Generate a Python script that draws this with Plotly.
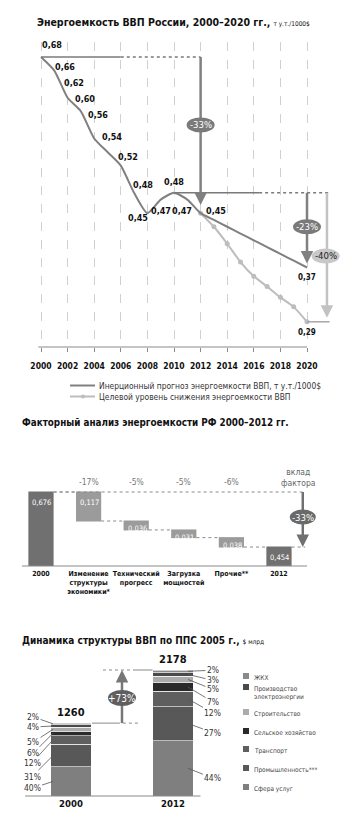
import plotly.graph_objects as go

W, H = 352, 829

# ---------------- Panel 1 data ----------------
years = list(range(2000, 2021))
inertial = [0.68, 0.66, 0.62, 0.60, 0.56, 0.54, 0.52, 0.48, 0.45, 0.47, 0.48,
            0.47, 0.45, 0.44, 0.43, 0.42, 0.41, 0.40, 0.39, 0.38, 0.37]
target_years = list(range(2012, 2021))
target = [0.45, 0.43, 0.405, 0.378, 0.357, 0.342, 0.326, 0.312, 0.29]
labelled_years = list(range(2000, 2013))
tick_years = list(range(2000, 2021, 2))
legend1_names = ["Инерционный прогноз энергоемкости ВВП, т у.т./1000$",
                 "Целевой уровень снижения энергоемкости ВВП"]
p1_pct = ["-33%", "-23%", "-40%"]

# ---------------- Panel 2 data ----------------
factor_cats = ["2000", "Изменение<br>структуры<br>экономики*", "Технический<br>прогресс",
               "Загрузка<br>мощностей", "Прочие**", "2012"]
factor_start = 0.676
factor_deltas = [0.117, 0.036, 0.031, 0.038]
factor_pct = ["-17%", "-5%", "-5%", "-6%"]
factor_total_pct = "-33%"

# ---------------- Panel 3 data ----------------
gdp_years = ["2000", "2012"]
gdp_totals = [1260, 2178]
sectors = ["Сфера услуг", "Промышленность***", "Транспорт", "Сельское хозяйство",
           "Строительство", "Производство электроэнергии", "ЖКХ"]
shares_2000 = [40, 31, 12, 6, 5, 4, 2]
shares_2012 = [44, 27, 12, 7, 5, 3, 2]
gdp_growth = "+73%"

# ---------------- styling ----------------
FN = "Liberation Sans Narrow, DejaVu Sans Condensed, Arial Narrow, Liberation Sans, sans-serif"
DARK = "#808080"
LIGHT = "#bdbdbd"
sector_colors = ["#7f7f7f", "#585858", "#5f5f5f", "#2a2a2a", "#ababab", "#4a4a4a", "#8a8a8a"]


def PX(x):
    return x / W


def PY(y):
    return 1 - y / H


fig = go.Figure()
shapes = []
ann = []

# ================= PANEL 1 =================
fig.add_trace(go.Scatter(x=target_years, y=target, mode="lines+markers",
                         line=dict(color=LIGHT, width=2, shape="spline", smoothing=0.5),
                         marker=dict(size=5, color=LIGHT),
                         xaxis="x", yaxis="y", showlegend=False, hoverinfo="skip"))
fig.add_trace(go.Scatter(x=years, y=inertial, mode="lines",
                         line=dict(color=DARK, width=2, shape="spline", smoothing=0.6),
                         xaxis="x", yaxis="y", showlegend=False, hoverinfo="skip"))

label_offsets = {2000: (11, 12), 2001: (11, 4), 2002: (6, 15), 2003: (4, 12), 2004: (4, 23),
                 2005: (4, 15), 2006: (7, 9), 2007: (9, 8), 2008: (-9, -5), 2009: (0, -11),
                 2010: (0, 11), 2011: (-5, -11), 2012: (15, 2)}
for yr in labelled_years:
    v = inertial[years.index(yr)]
    dx, dy = label_offsets[yr]
    ann.append(dict(x=yr, y=v, xref="x", yref="y", text="<b>%s</b>" % f"{v:.2f}".replace(".", ","),
                    showarrow=False, xshift=dx, yshift=dy, font=dict(family=FN, size=9, color="#111")))
ann.append(dict(x=2020, y=inertial[-1], xref="x", yref="y",
                text="<b>%s</b>" % f"{inertial[-1]:.2f}".replace(".", ","),
                showarrow=False, yshift=-10, font=dict(family=FN, size=8, color="#111")))
ann.append(dict(x=2020, y=target[-1], xref="x", yref="y",
                text="<b>%s</b>" % f"{target[-1]:.2f}".replace(".", ","),
                showarrow=False, yshift=-11, font=dict(family=FN, size=8, color="#111")))

shapes.append(dict(type="line", xref="x", yref="y domain", x0=1999.8, x1=2020, y0=0, y1=0,
                   line=dict(color="#8a8a8a", width=1)))
v0 = inertial[0]
v2010 = inertial[years.index(2010)]
shapes.append(dict(type="line", xref="x", yref="y", x0=2000, x1=2006, y0=v0, y1=v0,
                   line=dict(color="#7a7a7a", width=1.5)))
shapes.append(dict(type="line", xref="x", yref="y", x0=2006, x1=2012, y0=v0, y1=v0,
                   line=dict(color="#7a7a7a", width=1.5, dash="dot")))
shapes.append(dict(type="line", xref="x", yref="y", x0=2010, x1=2016.4, y0=v2010, y1=v2010,
                   line=dict(color="#7a7a7a", width=1.5)))
shapes.append(dict(type="line", xref="x", yref="y", x0=2016.4, x1=2021.7, y0=v2010, y1=v2010,
                   line=dict(color="#7a7a7a", width=1.5, dash="dot")))
shapes.append(dict(type="line", xref="x", yref="y", x0=2020, x1=2021.7, y0=target[-1], y1=target[-1],
                   line=dict(color="#a8a8a8", width=1.5)))
arrow_specs = [
    (2012, v0, 0.462, "#808080"),
    (2020, v2010, inertial[-1] + 0.006, "#808080"),
    (2021.5, v2010, target[-1] + 0.006, "#c2c2c2"),
]
for x, a, b, c in arrow_specs:
    shapes.append(dict(type="line", xref="x", yref="y", x0=x, x1=x, y0=a, y1=b + 0.012,
                       line=dict(color=c, width=2.5)))
    ann.append(dict(x=x, y=b, xref="x", yref="y", ax=0, ay=-12, text="", showarrow=True,
                    arrowhead=2, arrowsize=1.0, arrowwidth=2.5, arrowcolor=c))
ell1 = [(2012, 0.58, "#7a7a7a", "white", p1_pct[0], 14, 7.5),
        (2020, 0.43, "#7a7a7a", "white", p1_pct[1], 14, 7.5),
        (2021.4, 0.387, "#c8c8c8", "#222", p1_pct[2], 14, 7.5)]
for x, y, fc, tc, t, rw, rh in ell1:
    shapes.append(dict(type="circle", xref="x", yref="y", xsizemode="pixel", ysizemode="pixel",
                       xanchor=x, yanchor=y, x0=-rw, x1=rw, y0=-rh, y1=rh,
                       fillcolor=fc, line=dict(width=0)))
    ann.append(dict(x=x, y=y, xref="x", yref="y", text=t, showarrow=False,
                    font=dict(family=FN, size=9.5, color=tc)))

ann.append(dict(x=PX(35), y=PY(22), xref="paper", yref="paper", xanchor="left", yanchor="middle",
                showarrow=False,
                text="<b>Энергоемкость ВВП России, 2000–2020 гг.,</b> "
                     "<span style='font-size:6.5px'>т у.т./1000$</span>",
                font=dict(family=FN, size=10.5, color="#111")))
for i, (name, col) in enumerate(zip(legend1_names, [DARK, LIGHT])):
    yy = 385.5 + 11 * i
    shapes.append(dict(type="line", xref="paper", yref="paper", x0=PX(70), x1=PX(95),
                       y0=PY(yy), y1=PY(yy), line=dict(color=col, width=2)))
    if i == 1:
        shapes.append(dict(type="circle", xref="paper", yref="paper", x0=PX(81), x1=PX(85),
                           y0=PY(yy + 2), y1=PY(yy - 2), fillcolor=col, line=dict(width=0)))
    ann.append(dict(x=PX(97), y=PY(yy), xref="paper", yref="paper", xanchor="left", yanchor="middle",
                    showarrow=False, text=name, font=dict(family=FN, size=8.4, color="#333")))

# ================= PANEL 2 =================
fig.add_trace(go.Waterfall(
    x=list(range(len(factor_cats))),
    y=[factor_start] + [-d for d in factor_deltas] + [0],
    measure=["absolute"] + ["relative"] * len(factor_deltas) + ["total"],
    width=0.53,
    decreasing=dict(marker=dict(color="#9b9b9b")),
    increasing=dict(marker=dict(color="#9b9b9b")),
    totals=dict(marker=dict(color="#707070")),
    connector=dict(mode="between", line=dict(color="#8a8a8a", width=1, dash="dot")),
    textinfo="none", xaxis="x2", yaxis="y2", showlegend=False, hoverinfo="skip"))

levels = [factor_start]
for d in factor_deltas:
    levels.append(levels[-1] - d)
final = levels[-1]
bar_tops = [factor_start] + levels[:-1] + [final]
bar_vals = [factor_start] + factor_deltas + [final]
for i, (top, val) in enumerate(zip(bar_tops, bar_vals)):
    tall = (i == 0 or i == 5 or val > 0.1)
    ann.append(dict(x=i - 0.265, y=top, xref="x2", yref="y2", xanchor="left", yanchor="top",
                    xshift=2, yshift=-4 if tall else -1, showarrow=False,
                    text="%s" % f"{val:.3f}".replace(".", ","),
                    font=dict(family=FN, size=7.5, color="white")))
for i, t in enumerate(factor_pct):
    ann.append(dict(x=i + 1, y=factor_start, xref="x2", yref="y2", yshift=3, showarrow=False,
                    yanchor="bottom", text=t, font=dict(family=FN, size=8.5, color="#777")))

AX2 = 5.5
shapes.append(dict(type="line", xref="x2", yref="y2 domain", x0=-0.4, x1=5.59, y0=0, y1=0,
                   line=dict(color="#8a8a8a", width=1)))
shapes.append(dict(type="line", xref="x2", yref="y2", x0=0.265, x1=AX2 + 0.05, y0=factor_start,
                   y1=factor_start, line=dict(color="#8a8a8a", width=1, dash="dot")))
shapes.append(dict(type="line", xref="x2", yref="y2", x0=5.265, x1=AX2 + 0.05, y0=final,
                   y1=final, line=dict(color="#8a8a8a", width=1, dash="dot")))
shapes.append(dict(type="line", xref="x2", yref="y2", x0=AX2, x1=AX2, y0=factor_start,
                   y1=final + 0.045, line=dict(color="#707070", width=2.5)))
ann.append(dict(x=AX2, y=final, xref="x2", yref="y2", ax=0, ay=-12, text="", showarrow=True,
                arrowhead=2, arrowsize=1.0, arrowwidth=2.5, arrowcolor="#707070"))
shapes.append(dict(type="circle", xref="x2", yref="y2", xsizemode="pixel", ysizemode="pixel",
                   xanchor=AX2, yanchor=0.575, x0=-13, x1=13, y0=-7.5, y1=7.5,
                   fillcolor="#6a6a6a", line=dict(width=0)))
ann.append(dict(x=AX2, y=0.575, xref="x2", yref="y2", text=factor_total_pct, showarrow=False,
                font=dict(family=FN, size=9.5, color="white")))
ann.append(dict(x=5.4, y=factor_start, xref="x2", yref="y2", yanchor="bottom", yshift=2,
                showarrow=False, text="вклад<br>фактора",
                font=dict(family=FN, size=8.5, color="#666")))
ann.append(dict(x=PX(20), y=PY(422), xref="paper", yref="paper", xanchor="left", yanchor="middle",
                showarrow=False, text="<b>Факторный анализ энергоемкости РФ 2000–2012 гг.</b>",
                font=dict(family=FN, size=9.8, color="#111")))

# ================= PANEL 3 =================
for k, sec in enumerate(sectors):
    vals = [gdp_totals[0] * shares_2000[k] / 100, gdp_totals[1] * shares_2012[k] / 100]
    fig.add_trace(go.Bar(x=[0, 1], y=vals, name=sec, width=0.4,
                         marker=dict(color=sector_colors[k], line=dict(color="white", width=0.6)),
                         xaxis="x3", yaxis="y3", showlegend=False, hoverinfo="skip"))
fig.update_layout(barmode="stack")

off_2012 = [(25, 10), (25, 9), (25, 14), (25, 15), (25, 10), (25, 6), (25, -1)]
off_2000 = [(-21, 7), (-21, 21), (-21, 23), (-20, 20), (-20, 13), (-20, 1), (-20, -7)]
c0 = [0.0, 0.0]
for k, sec in enumerate(sectors):
    for j, (shares, offs, hx) in enumerate([(shares_2000, off_2000, -0.176), (shares_2012, off_2012, 1.147)]):
        v = gdp_totals[j] * shares[k] / 100
        mid = c0[j] + v / 2
        c0[j] += v
        ann.append(dict(x=hx, y=mid, xref="x3", yref="y3", ax=offs[k][0], ay=offs[k][1],
                        text="%d%%" % shares[k], showarrow=True, arrowhead=0, arrowwidth=0.8,
                        arrowcolor="#555", font=dict(family=FN, size=8.5, color="#333")))
for j, tot in enumerate(gdp_totals):
    ann.append(dict(x=j, y=tot, xref="x3", yref="y3", yanchor="bottom", yshift=2, showarrow=False,
                    text="<b>%d</b>" % tot, font=dict(family=FN, size=11, color="#111")))

shapes.append(dict(type="line", xref="x3", yref="y3 domain", x0=-0.45, x1=1.27, y0=0, y1=0,
                   line=dict(color="#8a8a8a", width=1)))
shapes.append(dict(type="line", xref="x3", yref="y3", x0=0.206, x1=0.45, y0=gdp_totals[0],
                   y1=gdp_totals[0], line=dict(color="#8a8a8a", width=1)))
shapes.append(dict(type="line", xref="x3", yref="y3", x0=0.45, x1=0.657, y0=gdp_totals[0],
                   y1=gdp_totals[0], line=dict(color="#8a8a8a", width=1, dash="dot")))
shapes.append(dict(type="line", xref="x3", yref="y3", x0=0.314, x1=0.608, y0=gdp_totals[1],
                   y1=gdp_totals[1], line=dict(color="#8a8a8a", width=1, dash="dot")))
shapes.append(dict(type="line", xref="x3", yref="y3", x0=0.608, x1=0.8, y0=gdp_totals[1],
                   y1=gdp_totals[1], line=dict(color="#8a8a8a", width=1)))
shapes.append(dict(type="line", xref="x3", yref="y3", x0=0.5, x1=0.5, y0=gdp_totals[0],
                   y1=gdp_totals[1] - 150, line=dict(color="#777", width=2.5)))
ann.append(dict(x=0.5, y=gdp_totals[1], xref="x3", yref="y3", ax=0, ay=12, text="", showarrow=True,
                arrowhead=2, arrowsize=1.0, arrowwidth=2.5, arrowcolor="#777"))
shapes.append(dict(type="circle", xref="x3", yref="y3", xsizemode="pixel", ysizemode="pixel",
                   xanchor=0.5, yanchor=1694, x0=-14, x1=14, y0=-8, y1=8,
                   fillcolor="#5f5f5f", line=dict(width=0)))
ann.append(dict(x=0.5, y=1694, xref="x3", yref="y3", text=gdp_growth, showarrow=False,
                font=dict(family=FN, size=10, color="white")))
ann.append(dict(x=PX(20), y=PY(640), xref="paper", yref="paper", xanchor="left", yanchor="middle",
                showarrow=False,
                text="<b>Динамика структуры ВВП по ППС 2005 г.,</b> "
                     "<span style='font-size:6.5px'>$ млрд</span>",
                font=dict(family=FN, size=10, color="#111")))
leg_y = [787, 768, 749, 731, 712, 687, 676]
for k, sec in enumerate(sectors):
    yy = leg_y[k]
    shapes.append(dict(type="rect", xref="paper", yref="paper", x0=PX(243), x1=PX(249),
                       y0=PY(yy + 3), y1=PY(yy - 3), fillcolor=sector_colors[k], line=dict(width=0)))
    label = sec.replace(" ", "<br>") if len(sec) > 20 else sec
    ann.append(dict(x=PX(252), y=PY(yy - 4), xref="paper", yref="paper", xanchor="left", yanchor="top",
                    showarrow=False, text=label, align="left",
                    font=dict(family=FN, size=6.5, color="#444")))

# ================= LAYOUT =================
fig.update_layout(
    width=W, height=H, margin=dict(l=0, r=0, t=0, b=0),
    paper_bgcolor="white", plot_bgcolor="white",
    showlegend=False,
    xaxis=dict(domain=[0, 1], range=[1996.917, 2023.383], tickvals=tick_years,
               ticktext=[str(y) for y in tick_years], ticks="outside", ticklen=4, tickcolor="#8a8a8a",
               showgrid=True, gridcolor="#d0d0d0", griddash="dash", gridwidth=1,
               zeroline=False, showline=False, ticklabelstandoff=7, tickangle=0,
               tickfont=dict(family=FN, size=8.5, color="#111", weight="bold"), anchor="y"),
    yaxis=dict(domain=[PY(347), PY(42)], range=[0.2529, 0.7021], visible=False, anchor="x"),
    xaxis2=dict(domain=[0, 1], range=[-0.861, 6.534], tickvals=list(range(len(factor_cats))),
                ticktext=factor_cats, showgrid=False, zeroline=False, showline=False, tickangle=0,
                ticklabelstandoff=2,
                tickfont=dict(family=FN, size=7, color="#111", weight="bold"), anchor="y2"),
    yaxis2=dict(domain=[PY(566), PY(470)], range=[0.3776, 0.7647], visible=False, anchor="x2"),
    xaxis3=dict(domain=[0, 1], range=[-0.696, 2.755], tickvals=[0, 1], ticktext=gdp_years,
                showgrid=False, zeroline=False, showline=False, tickangle=0,
                tickfont=dict(family=FN, size=9.5, color="#111", weight="bold"), anchor="y3"),
    yaxis3=dict(domain=[PY(796), PY(655)], range=[0, 2437.3], visible=False, anchor="x3"),
    shapes=shapes, annotations=ann,
)

fig.write_html("out.html")
